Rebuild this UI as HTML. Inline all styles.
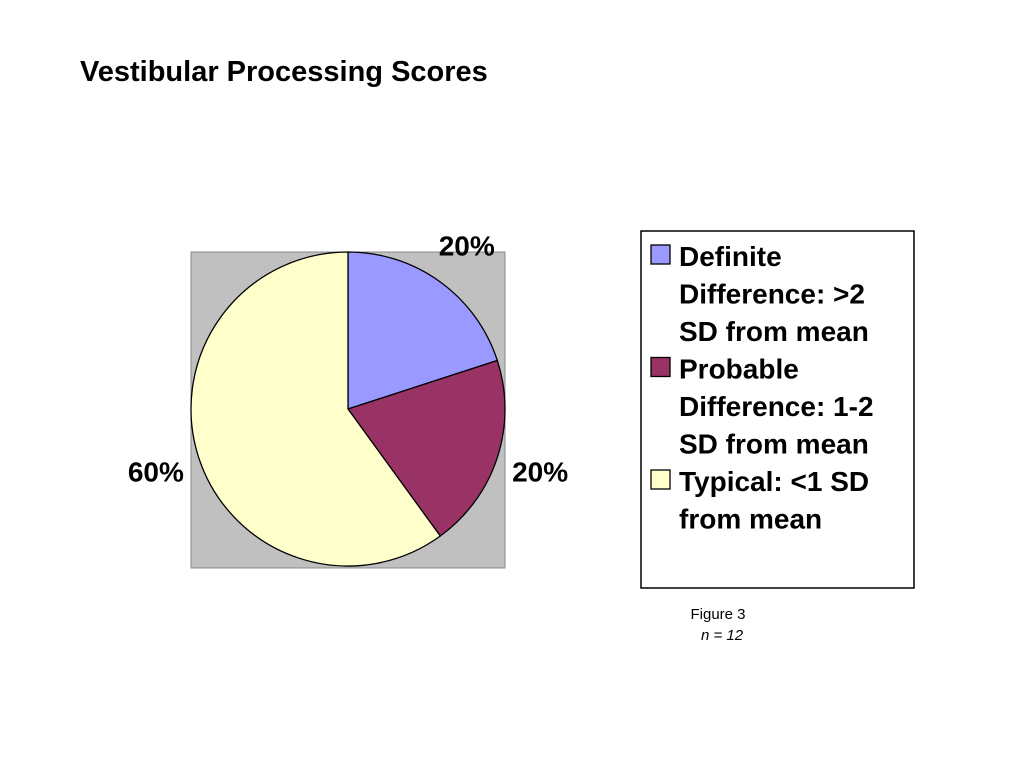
<!DOCTYPE html>
<html><head><meta charset="utf-8"><style>
body{margin:0;background:#fff;}
svg{display:block;font-family:"Liberation Sans",sans-serif;}
</style></head><body>
<svg width="1024" height="768" viewBox="0 0 1024 768">
<text x="80" y="81" font-size="29" font-weight="bold">Vestibular Processing Scores</text>
<rect x="191" y="252" width="314" height="316" fill="#c0c0c0" stroke="#888" stroke-width="1"/>
<g id="pie"></g>
<g id="labels"></g>
<rect x="641" y="231" width="273" height="357" fill="#fff" stroke="#000" stroke-width="1.5"/>
<g id="legend" font-size="28" font-weight="bold"></g>
<text x="718" y="619" font-size="15" text-anchor="middle">Figure 3</text>
<text x="722" y="640" font-size="15" font-style="italic" text-anchor="middle">n = 12</text>
</svg>
<script>
const categories=["Definite Difference: >2 SD from mean","Probable Difference: 1-2 SD from mean","Typical: <1 SD from mean"];
const values=[20,20,60];
const labelText=["20%","20%","60%"];
const colors=["#9999ff","#993366","#ffffcc"];
const legendLines=[["Definite","Difference: >2","SD from mean"],["Probable","Difference: 1-2","SD from mean"],["Typical: <1 SD","from mean"]];
const NS="http://www.w3.org/2000/svg";
const cx=348,cy=409,r=157;
const total=values.reduce((a,b)=>a+b,0);
const pie=document.getElementById('pie'),lab=document.getElementById('labels'),leg=document.getElementById('legend');
function pt(a,rr){return [cx+rr*Math.sin(a),cy-rr*Math.cos(a)];}
let start=0;
const labelPos=[[483,263],[541,482],[160,482]];
values.forEach((v,i)=>{
  const ang=v/total*2*Math.PI,end=start+ang;
  const p0=pt(start,r),p1=pt(end,r);
  const path=document.createElementNS(NS,'path');
  path.setAttribute('d',`M${cx},${cy} L${p0[0]},${p0[1]} A${r},${r} 0 ${ang>Math.PI?1:0} 1 ${p1[0]},${p1[1]} Z`);
  path.setAttribute('fill',colors[i]);path.setAttribute('stroke','#000');path.setAttribute('stroke-width','1.3');
  
  
  pie.appendChild(path);
  const mid=start+ang/2;
  const lp=pt(mid,r+45);
  const t=document.createElementNS(NS,'text');
  t.setAttribute('x',lp[0]);t.setAttribute('y',lp[1]+10);
  t.setAttribute('text-anchor','middle');t.setAttribute('font-size','28');t.setAttribute('font-weight','bold');
  t.textContent=labelText[i];
  
  
  lab.appendChild(t);
  start=end;
});
let y=266;
legendLines.forEach((lines,i)=>{
  const g=document.createElementNS(NS,'g');
  
  
  const s=document.createElementNS(NS,'rect');
  s.setAttribute('x',651);s.setAttribute('y',y-21);s.setAttribute('width',19);s.setAttribute('height',19);
  s.setAttribute('fill',colors[i]);s.setAttribute('stroke','#000');s.setAttribute('stroke-width','1.3');
  g.appendChild(s);
  lines.forEach(l=>{
    const t=document.createElementNS(NS,'text');
    t.setAttribute('x',679);t.setAttribute('y',y);t.textContent=l;g.appendChild(t);y+=37.5;
  });
  leg.appendChild(g);
});
</script>
</body></html>
